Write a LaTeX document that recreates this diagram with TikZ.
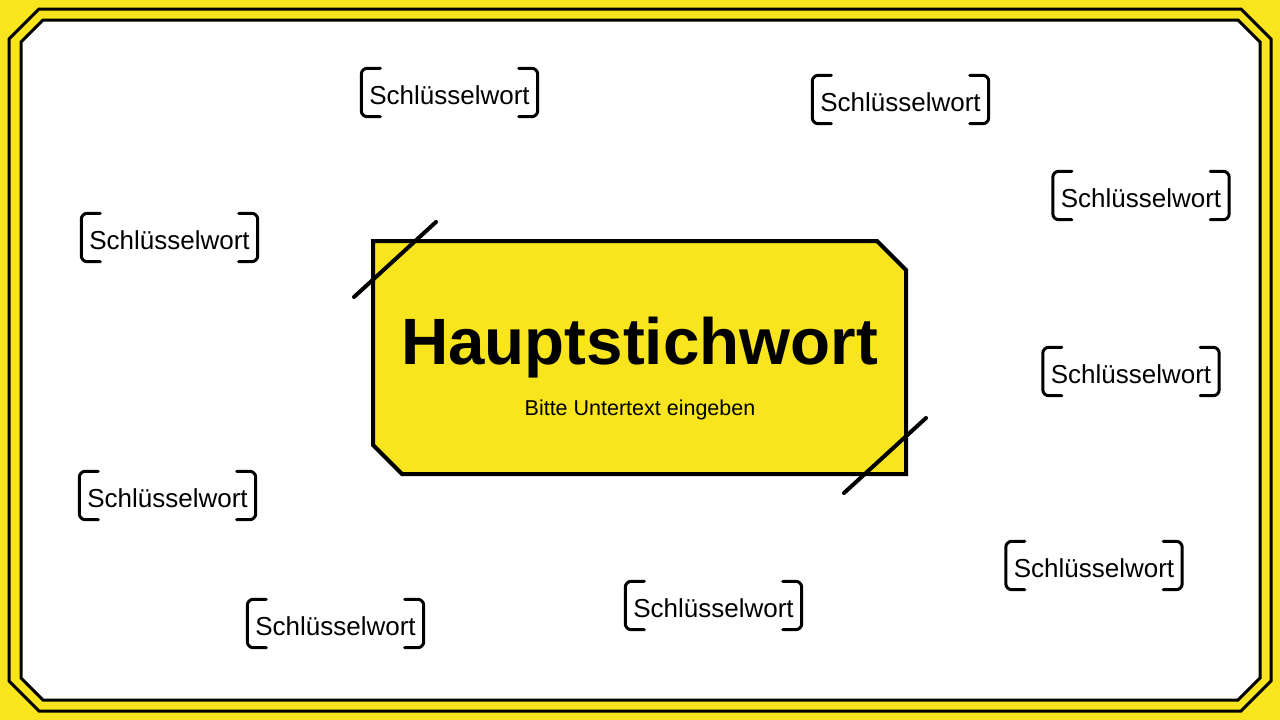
\documentclass[tikz,border=0pt]{standalone}
\usepackage{fontspec}
\setmainfont{Liberation Sans}
\definecolor{signyellow}{RGB}{249,229,30}
\tikzset{
  frameline/.style={draw=black, line width=3pt, line join=miter},
  mainbox/.style={draw=black, fill=signyellow, line width=4pt, line join=miter},
  slash/.style={draw=black, line width=4pt, line cap=round},
  keyword/.style={minimum width=176pt, minimum height=48pt, inner sep=0pt,
    text height=23pt, text depth=0pt, font=\fontsize{26}{29}\selectfont},
  bracket/.style={draw=black, line width=3pt, rounded corners=6pt, line cap=round},
  titletext/.style={font=\fontsize{65.5}{70}\selectfont\bfseries, inner sep=0pt, anchor=base},
  subtext/.style={font=\fontsize{21.5}{25}\selectfont, inner sep=0pt, anchor=base}
}
\begin{document}
\begin{tikzpicture}[x=1pt,y=-1pt]
\useasboundingbox (0,0) rectangle (1280,720);
% background
\fill[signyellow] (0,0) rectangle (1280,720);
% outer frame
\path[frameline] (39,9) -- (1241,9) -- (1271,39) -- (1271,681) -- (1241,711) -- (39,711) -- (9,681) -- (9,39) -- cycle;
% inner frame
\path[frameline, fill=white] (43,20) -- (1238,20) -- (1260,42) -- (1260,678) -- (1238,700) -- (43,700) -- (21,678) -- (21,42) -- cycle;
% central box
\path[mainbox] (373,241) -- (877,241) -- (906,270) -- (906,474) -- (402,474) -- (373,445) -- cycle;
\coordinate (s1a) at (354,297); \coordinate (s1b) at (436,222);
\coordinate (s2a) at (844,493); \coordinate (s2b) at (926,418);
\draw[slash] (s1a) -- (s1b);
\draw[slash] (s2a) -- (s2b);
\node[titletext] (title) at (639.5,364) {Hauptstichwort};
\node[subtext] (sub) at (640,415) {Bitte Untertext eingeben};
% keywords
\foreach \n/\cx/\cy in {1/449.5/92.5, 2/900.5/99.5, 3/1141/195.5, 4/169.5/237.5, 5/1131/371.5, 6/167.5/495.5, 7/1094/565.5, 8/713.5/605.5, 9/335.5/623.5}{
  \node[keyword] (k\n) at (\cx,\cy) {Schlüsselwort};
  \draw[bracket] ([xshift=19pt]k\n.north west) -- (k\n.north west) -- (k\n.south west) -- ([xshift=19pt]k\n.south west);
  \draw[bracket] ([xshift=-19pt]k\n.north east) -- (k\n.north east) -- (k\n.south east) -- ([xshift=-19pt]k\n.south east);
}
\end{tikzpicture}
\end{document}
